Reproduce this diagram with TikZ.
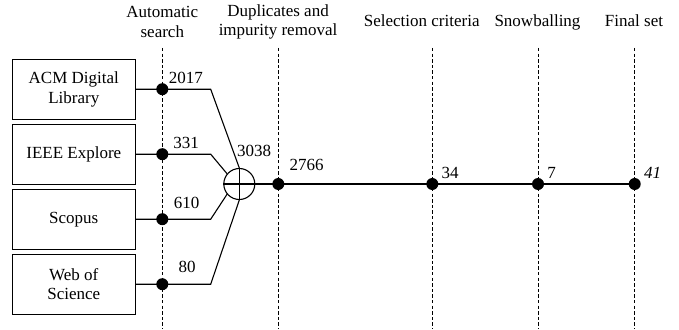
\documentclass[tikz,border=0pt]{standalone}
\usepackage{fontspec}
\setmainfont{Liberation Serif}
\newfontfamily\figfont{Liberation Serif}
\begin{document}
\begin{tikzpicture}[x=1pt,y=-1pt,
  every node/.style={font=\figfont\fontsize{17}{19.5}\selectfont, inner sep=0pt},
  srcbox/.style={draw, line width=1.1pt, minimum width=123pt, minimum height=60pt, align=center},
  dot/.style={circle, fill=black, minimum size=12pt},
  guide/.style={line width=0.9pt, dash pattern=on 3.3pt off 2.3pt},
  flow/.style={line width=1.1pt},
  num/.style={anchor=base},
  head/.style={align=center},
  headone/.style={anchor=base}]
\useasboundingbox (0,0) rectangle (679,329);
% guide lines
\foreach \x/\n in {162.3/1,278.3/2,432.3/3,538/4,634.7/5} {
  \coordinate (t\n) at (\x,48);
  \coordinate (b\n) at (\x,329);
}
\draw[guide] (t1) -- (b1);
\draw[guide] (t2) -- (b2);
\draw[guide] (t3) -- (b3);
\draw[guide] (t4) -- (b4);
\draw[guide] (t5) -- (b5);
% headers
\node[head] (h1) at (162.3,22) {Automatic\\search};
\node[head] (h2) at (278,22) {Duplicates and\\impurity removal};
\node[headone] (h3) at (421.7,26.3) {Selection criteria};
\node[headone] (h4) at (537.5,26.3) {Snowballing};
\node[headone] (h5) at (634,26.3) {Final set};
% sources
\node[srcbox] (acm) at (73.8,89.2) {ACM Digital\\Library};
\node[srcbox] (ieee) at (73.8,154.2) {IEEE Explore};
\node[srcbox] (scopus) at (73.8,219.2) {Scopus};
\node[srcbox] (wos) at (73.8,284.2) {Web of\\Science};
% merge circle
\node[circle, draw, line width=1.1pt, minimum size=31pt] (mg) at (239.3,184) {};
\draw[flow] (mg.north) -- (mg.south) (mg.west) -- (mg.east);
% bends
\coordinate (k1) at (210.7,89.2);
\coordinate (k2) at (210.7,154.2);
\coordinate (k3) at (210.7,219.2);
\coordinate (k4) at (210.7,284.2);
\draw[flow] (acm.east) -- (k1) -- (mg.north);
\draw[flow] (ieee.east) -- (k2) -- (mg.140);
\draw[flow] (scopus.east) -- (k3) -- (mg.220);
\draw[flow] (wos.east) -- (k4) -- (mg.south);
% dots
\node[dot] (d1) at (162.3,89.2) {};
\node[dot] (d2) at (162.3,154.2) {};
\node[dot] (d3) at (162.3,219.2) {};
\node[dot] (d4) at (162.3,284.2) {};
\node[dot] (e1) at (278.3,184) {};
\node[dot] (e2) at (432.3,184) {};
\node[dot] (e3) at (538,184) {};
\node[dot] (e4) at (634.7,184) {};
\draw[flow] (mg.east) -- (e1.center) -- (e2.center) -- (e3.center) -- (e4.center);
% numbers
\node[num] (n1) at (185.8,83) {2017};
\node[num] (n2) at (186,148) {331};
\node[num] (n3) at (186.7,208.5) {610};
\node[num] (n4) at (187,272.5) {80};
\node[num] (n5) at (254,156.5) {3038};
\node[num] (n6) at (306.7,170.7) {2766};
\node[num] (n7) at (450.2,178.5) {34};
\node[num] (n8) at (551.7,178.5) {7};
\node[num] (n9) at (652.5,178.5) {\itshape 41};
\end{tikzpicture}
\end{document}
